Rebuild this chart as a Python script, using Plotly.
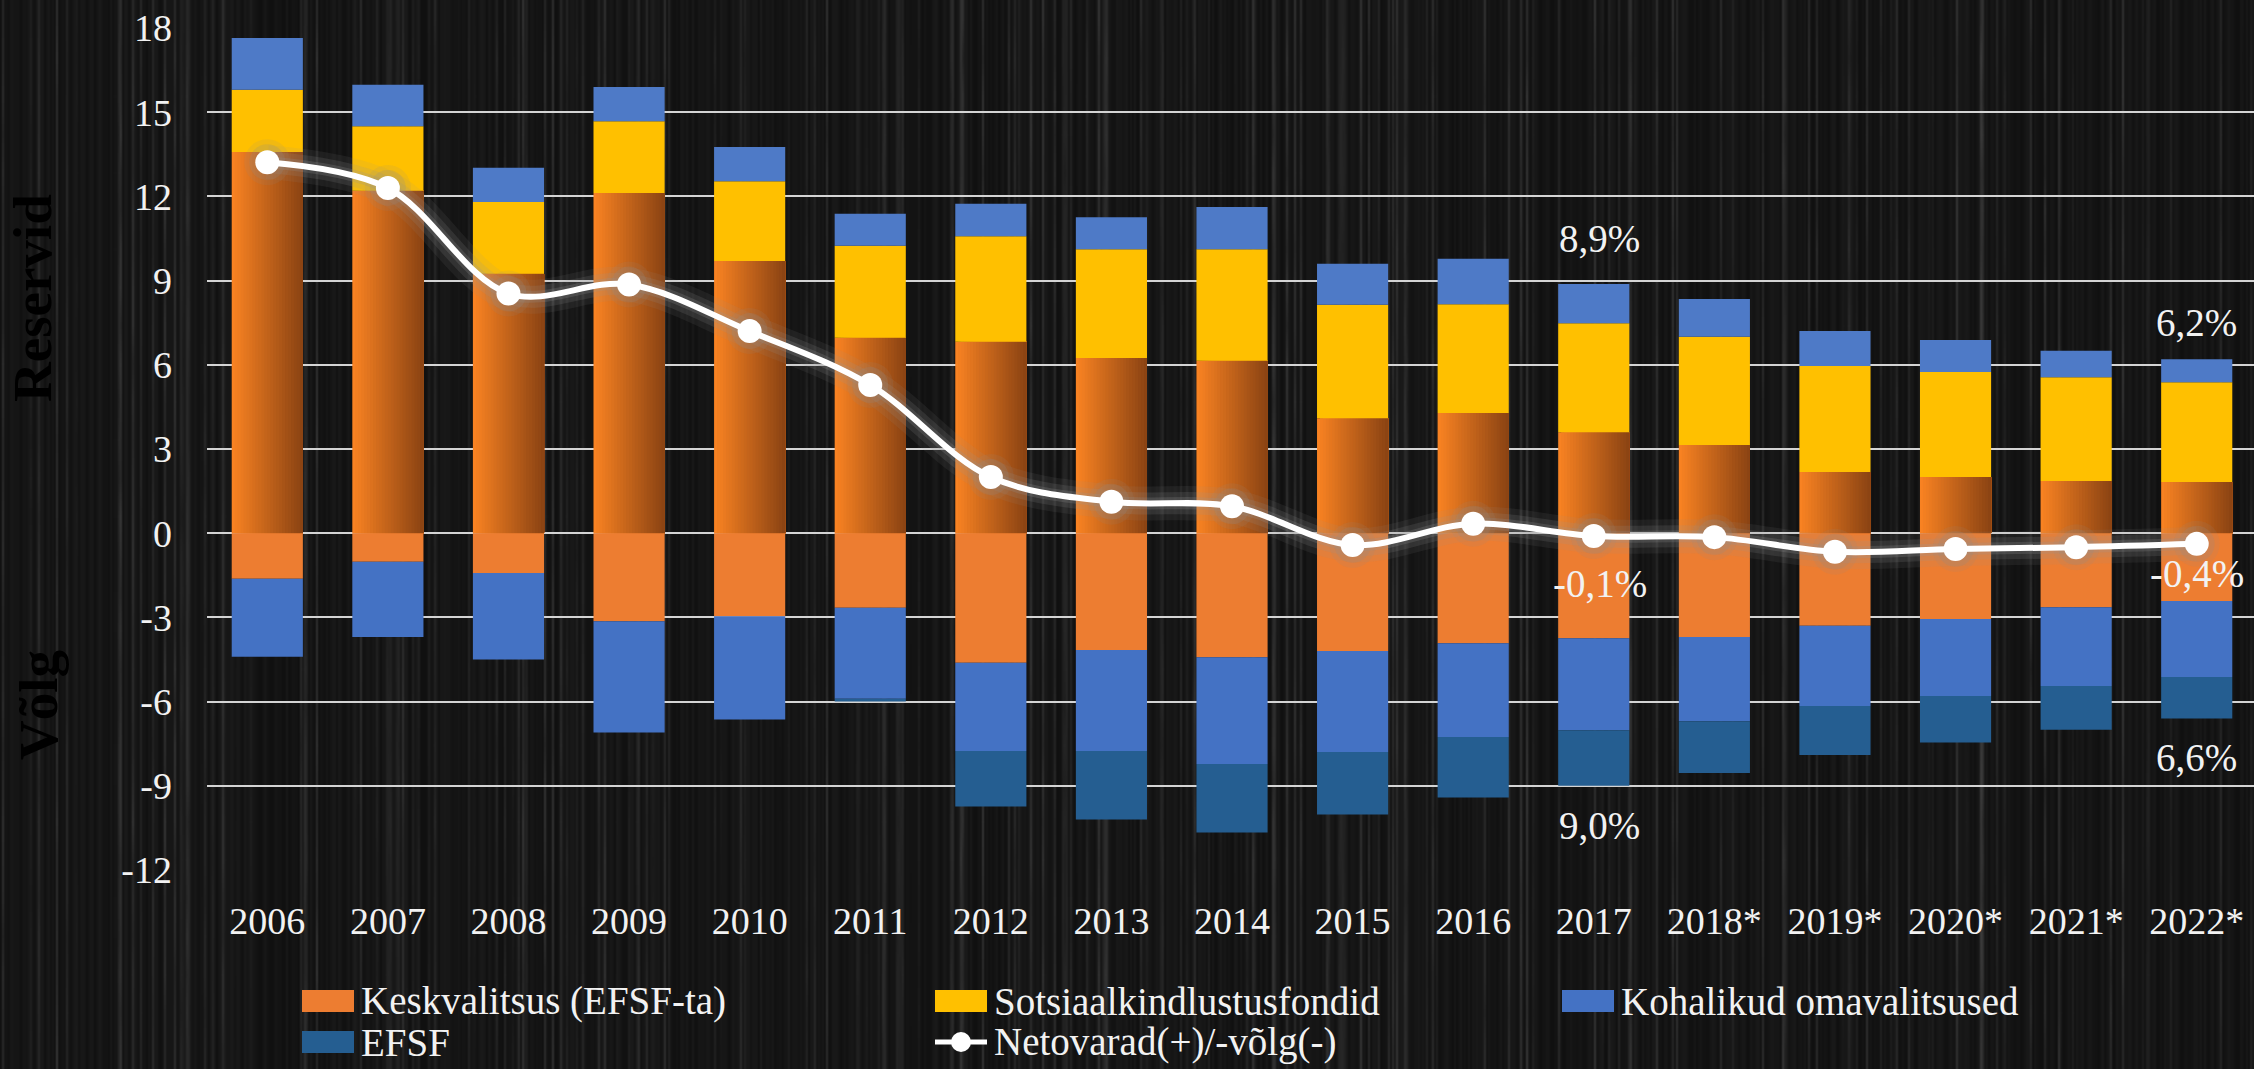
import base64
import struct
import zlib

import numpy as np
import plotly.graph_objects as go

# ---------------- data ----------------
years = ["2006", "2007", "2008", "2009", "2010", "2011", "2012", "2013", "2014",
         "2015", "2016", "2017", "2018*", "2019*", "2020*", "2021*", "2022*"]

# assets (+)
kesk_varad = [13.58, 12.20, 9.24, 12.12, 9.70, 6.96, 6.82, 6.24, 6.14,
              4.10, 4.28, 3.60, 3.14, 2.18, 2.00, 1.86, 1.82]
sots_varad = [2.22, 2.30, 2.56, 2.56, 2.84, 3.28, 3.76, 3.88, 3.98,
              4.04, 3.88, 3.88, 3.86, 3.78, 3.74, 3.70, 3.56]
kov_varad = [1.84, 1.48, 1.22, 1.22, 1.22, 1.14, 1.16, 1.14, 1.50,
             1.46, 1.62, 1.40, 1.34, 1.24, 1.14, 0.94, 0.82]
# debt (-)
kesk_volg = [-1.62, -1.02, -1.42, -3.14, -2.96, -2.66, -4.62, -4.16, -4.42,
             -4.20, -3.92, -3.74, -3.70, -3.30, -3.06, -2.64, -2.42]
kov_volg = [-2.78, -2.68, -3.08, -3.96, -3.68, -3.24, -3.14, -3.60, -3.80,
            -3.60, -3.34, -3.28, -3.00, -2.86, -2.74, -2.80, -2.70]
efsf = [0.0, 0.0, 0.0, 0.0, 0.0, -0.10, -1.98, -2.44, -2.44,
        -2.22, -2.16, -1.98, -1.84, -1.74, -1.66, -1.56, -1.48]
# net assets(+)/debt(-)
netovarad = [13.22, 12.30, 8.54, 8.86, 7.20, 5.28, 2.00, 1.12, 0.96,
             -0.42, 0.34, -0.10, -0.14, -0.66, -0.56, -0.50, -0.38]

series_names = ["Keskvalitsus (EFSF-ta)", "Sotsiaalkindlustusfondid",
                "Kohalikud omavalitsused", "EFSF", "Netovarad(+)/-võlg(-)"]

y_tick_vals = [-12, -9, -6, -3, 0, 3, 6, 9, 12, 15, 18]
y_tick_labels = ["-12", "-9", "-6", "-3", "0", "3", "6", "9", "12", "15", "18"]

# value labels: (category, y value, text)
value_labels = [("2017", 10.5, "8,9%"), ("2017", -1.8, "-0,1%"), ("2017", -10.4, "9,0%"),
                ("2022*", 7.5, "6,2%"), ("2022*", -1.45, "-0,4%"), ("2022*", -8.0, "6,6%")]

# ---------------- styling ----------------
W_IMG, H_IMG = 2254, 1069
L, R, T, B = 207, 0, 28, 199
PW, PH = W_IMG - L - R, H_IMG - T - B
FONT = "Liberation Serif, Times New Roman, serif"
TXT = "#F2F2F2"
BAR_W = 0.59

C_KESK = "#ED7D31"
C_SOTS = "#FFC000"
C_KOV_POS = "#4E7AC7"
C_KOV_NEG = "#4472C4"
C_EFSF = "#255E91"
GRAD_L = np.array([0xF8, 0x82, 0x22])
GRAD_R = np.array([0x8C, 0x44, 0x13])


def px_x(px):
    return (px - L) / PW


def px_y(py):
    return (H_IMG - B - py) / PH


# ---------------- brushed-metal background texture (decoration only) ----------------
def hash01(n):
    v = np.sin(n * 12.9898 + 78.233) * 43758.5453
    return v - np.floor(v)


tw, th = 1127, 28
ci = np.arange(tw, dtype=float)
rj = np.arange(th, dtype=float)[:, None]
base_col = 16 + 10 * hash01(ci)
streak = np.where(hash01(ci * 3.1 + 7.0) > 0.80, 38 * hash01(ci * 5.3 + 1.0), 0)
mod = 0.55 + 0.45 * hash01(ci[None, :] * 1.7 + rj * 13.3)
tex = np.clip(base_col[None, :] + streak[None, :] * mod, 0, 255).astype(np.uint8)


def png_bytes(arr):
    h, w = arr.shape
    raw = b"".join(b"\x00" + arr[r].tobytes() for r in range(h))

    def chunk(t, d):
        c = struct.pack(">I", len(d)) + t + d
        return c + struct.pack(">I", zlib.crc32(t + d) & 0xFFFFFFFF)

    return (b"\x89PNG\r\n\x1a\n"
            + chunk(b"IHDR", struct.pack(">IIBBBBB", w, h, 8, 0, 0, 0, 0))
            + chunk(b"IDAT", zlib.compress(raw, 9))
            + chunk(b"IEND", b""))


tex_uri = "data:image/png;base64," + base64.b64encode(png_bytes(tex)).decode()

# ---------------- figure ----------------
kv = np.array(kesk_varad)
sv = np.array(sots_varad)
kn = np.array(kesk_volg)
on = np.array(kov_volg)

fig = go.Figure()

# Keskvalitsus assets with horizontal gradient (strips, each reaching to the bar's right edge)
N = 24
for k in range(N):
    f = k / (N - 1)
    col = GRAD_L + (GRAD_R - GRAD_L) * f
    color = "rgb(%d,%d,%d)" % tuple(int(round(c)) for c in col)
    off = -BAR_W / 2 + k * BAR_W / N
    fig.add_trace(go.Bar(x=years, y=kesk_varad, base=0, offset=off, width=BAR_W - k * BAR_W / N,
                         marker=dict(color=color, line=dict(width=0)), showlegend=False,
                         name=series_names[0], hoverinfo="skip" if k else None))

fig.add_trace(go.Bar(x=years, y=sots_varad, base=kv, width=BAR_W, name=series_names[1],
                     marker=dict(color=C_SOTS, line=dict(width=0)), showlegend=False))
fig.add_trace(go.Bar(x=years, y=kov_varad, base=kv + sv, width=BAR_W, name=series_names[2],
                     marker=dict(color=C_KOV_POS, line=dict(width=0)), showlegend=False))
fig.add_trace(go.Bar(x=years, y=kesk_volg, base=0, width=BAR_W, name=series_names[0],
                     marker=dict(color=C_KESK, line=dict(width=0)), showlegend=False))
fig.add_trace(go.Bar(x=years, y=kov_volg, base=kn, width=BAR_W, name=series_names[2],
                     marker=dict(color=C_KOV_NEG, line=dict(width=0)), showlegend=False))
fig.add_trace(go.Bar(x=years, y=efsf, base=kn + on, width=BAR_W, name=series_names[3],
                     marker=dict(color=C_EFSF, line=dict(width=0)), showlegend=False))

# glow under the net line
for wdt, alpha in [(34, 0.10), (22, 0.16), (12, 0.22)]:
    fig.add_trace(go.Scatter(x=years, y=netovarad, mode="lines", hoverinfo="skip", showlegend=False,
                             line=dict(color="rgba(150,150,150,%.2f)" % alpha, width=wdt,
                                       shape="spline", smoothing=1.0)))
for sz, alpha in [(46, 0.12), (36, 0.2)]:
    fig.add_trace(go.Scatter(x=years, y=netovarad, mode="markers", hoverinfo="skip", showlegend=False,
                             marker=dict(size=sz, color="rgba(140,140,140,%.2f)" % alpha,
                                         line=dict(width=0))))
fig.add_trace(go.Scatter(x=years, y=netovarad, mode="lines+markers", name=series_names[4],
                         showlegend=False,
                         line=dict(color="white", width=6, shape="spline", smoothing=1.0),
                         marker=dict(size=24, color="white", line=dict(width=0))))

annotations = []
for cat, yv, txt in value_labels:
    annotations.append(dict(x=years.index(cat), y=yv, xref="x", yref="y", text=txt, showarrow=False,
                            xanchor="center", yanchor="middle",
                            xshift=6 if cat == "2017" else 0,
                            font=dict(family=FONT, size=39, color=TXT)))

# axis titles (black on black, as in the original)
annotations.append(dict(x=px_x(33), y=px_y(298), xref="paper", yref="paper", text="<b>Reservid</b>",
                        textangle=-90, showarrow=False, xanchor="center", yanchor="middle",
                        font=dict(family=FONT, size=55, color="#000000")))
annotations.append(dict(x=px_x(38), y=px_y(705), xref="paper", yref="paper", text="<b>Võlg</b>",
                        textangle=-90, showarrow=False, xanchor="center", yanchor="middle",
                        font=dict(family=FONT, size=55, color="#000000")))

# custom legend
shapes = []
rows = [1001, 1042]
cols = [302, 935, 1562]
legend_items = [(0, 0, "rect", C_KESK), (0, 1, "rect", C_SOTS), (0, 2, "rect", C_KOV_NEG),
                (1, 0, "rect", C_EFSF), (1, 1, "line", "white")]
for idx, (r, c, kind, color) in enumerate(legend_items):
    x0, yc = cols[c], rows[r]
    if kind == "rect":
        shapes.append(dict(type="rect", xref="paper", yref="paper", x0=px_x(x0), x1=px_x(x0 + 52),
                           y0=px_y(yc + 11), y1=px_y(yc - 11), fillcolor=color, line=dict(width=0)))
    else:
        shapes.append(dict(type="line", xref="paper", yref="paper", x0=px_x(x0), x1=px_x(x0 + 52),
                           y0=px_y(yc), y1=px_y(yc), line=dict(color=color, width=5)))
        shapes.append(dict(type="circle", xref="paper", yref="paper", x0=px_x(x0 + 16), x1=px_x(x0 + 36),
                           y0=px_y(yc + 10), y1=px_y(yc - 10), fillcolor=color, line=dict(width=0)))
    annotations.append(dict(x=px_x(x0 + 57), y=px_y(yc), xref="paper", yref="paper",
                            xanchor="left", yanchor="middle", text=series_names[idx], showarrow=False,
                            font=dict(family=FONT, size=39, color=TXT)))

fig.update_layout(
    width=W_IMG, height=H_IMG,
    margin=dict(l=L, r=R, t=T, b=B, pad=0),
    barmode="overlay",
    paper_bgcolor="#141414",
    plot_bgcolor="rgba(0,0,0,0)",
    showlegend=False,
    font=dict(family=FONT, color=TXT),
    images=[dict(source=tex_uri, xref="paper", yref="paper", x=px_x(0), y=px_y(0),
                 sizex=W_IMG / PW, sizey=H_IMG / PH, xanchor="left", yanchor="top",
                 sizing="stretch", layer="below")],
    annotations=annotations,
    shapes=shapes,
    xaxis=dict(type="category", range=[-0.5, 16.475], showgrid=False, showline=False, zeroline=False,
               ticks="", tickfont=dict(family=FONT, size=38, color=TXT), ticklabelstandoff=25),
    yaxis=dict(range=[-12, 18], tickmode="array", tickvals=y_tick_vals, ticktext=y_tick_labels,
               showgrid=True, gridcolor="#D4D4D4", gridwidth=2,
               zeroline=True, zerolinecolor="#D4D4D4", zerolinewidth=2, showline=False, ticks="",
               tickfont=dict(family=FONT, size=38, color=TXT), ticklabelstandoff=34),
)

fig.write_html("out.html", config={"displayModeBar": False},
               post_script="document.body.style.margin='0';document.body.style.overflow='hidden';")
